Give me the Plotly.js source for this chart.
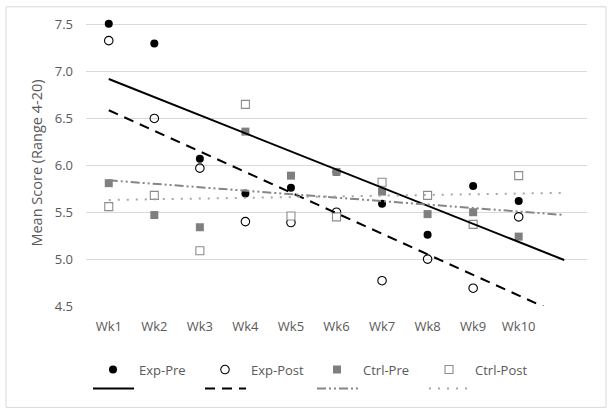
<!DOCTYPE html>
<html>
<head>
<meta charset="utf-8">
<script src="https://cdn.plot.ly/plotly-3.0.1.min.js"></script>
<style>
html,body{margin:0;padding:0;background:#fff;}
#chart{width:611px;height:415px;}
</style>
</head>
<body>
<div id="chart"></div>
<script>
// ---- data ----
const weeks = ["Wk1","Wk2","Wk3","Wk4","Wk5","Wk6","Wk7","Wk8","Wk9","Wk10"];
const expPre   = [7.51, 7.30, 6.07, 5.70, 5.76, 5.93, 5.59, 5.26, 5.78, 5.62];
const expPost  = [7.33, 6.50, 5.97, 5.40, 5.39, 5.50, 4.77, 5.00, 4.69, 5.45];
const ctrlPre  = [5.81, 5.47, 5.34, 6.36, 5.89, 5.93, 5.72, 5.48, 5.50, 5.24];
const ctrlPost = [5.56, 5.68, 5.09, 6.65, 5.46, 5.45, 5.82, 5.68, 5.37, 5.89];
const seriesNames = ["Exp-Pre","Exp-Post","Ctrl-Pre","Ctrl-Post"];
const yTicks = [4.5, 5.0, 5.5, 6.0, 6.5, 7.0, 7.5];

const idx = weeks.map((_, i) => i);

// linear trendline, extended one period forward
function trend(ys) {
  const n = ys.length;
  const mx = (n - 1) / 2;
  const my = ys.reduce((a, b) => a + b, 0) / n;
  let sxy = 0, sxx = 0;
  ys.forEach((y, i) => { sxy += (i - mx) * (y - my); sxx += (i - mx) * (i - mx); });
  const m = sxy / sxx, b = my - m * mx;
  return { x: [0, n], y: [b, b + m * n] };
}

const font = "Open Sans, Noto Sans, sans-serif";
const txt = "#595959";

// plot-area geometry (pixels)
const W = 611, H = 415;
const plotL = 86, plotR = 587;
const yTopPx = 25, yBotPx = 308;          // pixel rows of 7.5 and 4.5
const yMin = 4.5, yTickMax = 7.5, yMax = 7.55;
const pxPerUnit = (yBotPx - yTopPx) / (yTickMax - yMin);
const plotT = yTopPx - (yMax - yTickMax) * pxPerUnit;
const plotH = yBotPx - plotT, plotW = plotR - plotL;
const px2x = p => (p - plotL) / plotW;
const px2y = p => (yBotPx - p) / plotH;

const markerTraces = [
  { y: expPre,   marker: { symbol: "circle", size: 8, color: "#000000", line: { width: 0 } } },
  { y: expPost,  marker: { symbol: "circle-open", size: 8.5, color: "#000000", line: { width: 1.1 } } },
  { y: ctrlPre,  marker: { symbol: "square", size: 8, color: "#7f7f7f", line: { width: 0 } } },
  { y: ctrlPost, marker: { symbol: "square", size: 8, color: "#ffffff", line: { width: 1.1, color: "#8c8c8c" } } }
].map((t, k) => ({
  type: "scatter", mode: "markers", x: idx, y: t.y, name: seriesNames[k],
  marker: t.marker, cliponaxis: false, legend: "legend", hoverinfo: "skip"
}));

const lineStyles = [
  { color: "#000000", width: 2, dash: "solid" },
  { color: "#000000", width: 2, dash: "10px,7px" },
  { color: "#868686", width: 2, dash: "9px,3px,2px,3px,2px,3px" },
  { color: "#a6a6a6", width: 2, dash: "2px,7px" }
];
const allSeries = [expPre, expPost, ctrlPre, ctrlPost];
const lineTraces = allSeries.map((s, k) => {
  const t = trend(s);
  return {
    type: "scatter", mode: "lines", x: t.x, y: t.y, name: " ",
    line: lineStyles[k], legend: "legend2", hoverinfo: "skip"
  };
});

const data = [...markerTraces, ...lineTraces];

const layout = {
  width: W, height: H,
  margin: { l: plotL, r: W - plotR, t: plotT, b: H - yBotPx },
  paper_bgcolor: "#ffffff", plot_bgcolor: "#ffffff",
  font: { family: font, size: 13, color: txt },
  showlegend: true,
  xaxis: {
    range: [-0.5, 10.5], tickvals: idx, ticktext: weeks,
    showgrid: false, zeroline: false, showline: false, ticks: "",
    tickfont: { family: font, size: 13, color: txt }, ticklabelstandoff: 11,
    fixedrange: true
  },
  yaxis: {
    range: [yMin, yMax], tickvals: yTicks, ticktext: yTicks.map(v => v.toFixed(1)),
    showgrid: true, gridcolor: "#d9d9d9", gridwidth: 1, zeroline: false, showline: false, ticks: "",
    tickfont: { family: font, size: 13, color: txt }, ticklabelstandoff: 12,
    title: { text: "Mean Score (Range 4-20)", font: { family: font, size: 14.5, color: txt }, standoff: 8 },
    fixedrange: true
  },
  legend: {
    orientation: "h", x: px2x(87), xanchor: "left", y: px2y(372), yanchor: "middle",
    entrywidth: 55, entrywidthmode: "pixels", itemwidth: 42,
    font: { family: font, size: 13, color: txt }, bgcolor: "rgba(0,0,0,0)", traceorder: "normal"
  },
  legend2: {
    orientation: "h", x: px2x(88), xanchor: "left", y: px2y(391), yanchor: "middle",
    entrywidth: 56, entrywidthmode: "pixels", itemwidth: 41,
    font: { family: font, size: 7, color: txt }, bgcolor: "rgba(0,0,0,0)", traceorder: "normal"
  },
  shapes: [{
    type: "rect", xref: "paper", yref: "paper",
    x0: px2x(6), x1: px2x(606),
    y0: px2y(410), y1: px2y(7),
    line: { color: "#d9d9d9", width: 1 }, fillcolor: "rgba(0,0,0,0)", layer: "below"
  }]
};

Plotly.newPlot("chart", data, layout, { displayModeBar: false, staticPlot: true });
</script>
</body>
</html>
